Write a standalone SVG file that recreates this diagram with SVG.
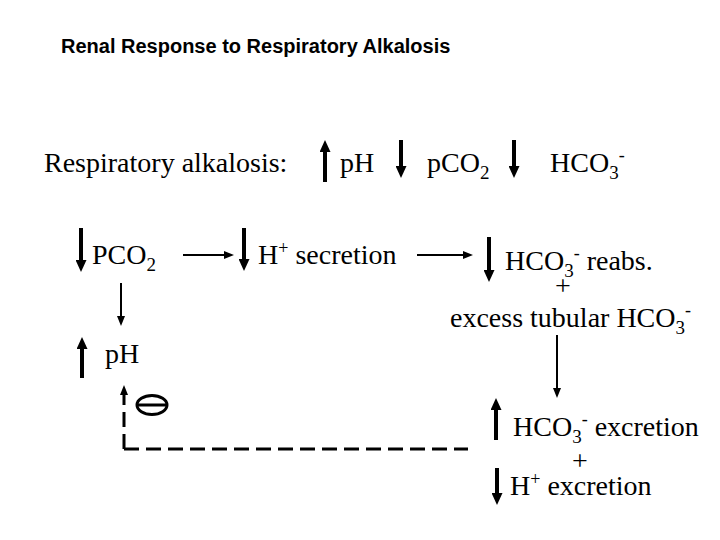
<svg xmlns="http://www.w3.org/2000/svg" width="720" height="540" viewBox="0 0 720 540">
<style>
  .t { font-family: "Liberation Serif", "Times New Roman", serif; font-size: 28px; fill: #000; }
  .sub { font-size: 19px; }
  .sup { font-size: 18px; }
  .title { font-family: "Liberation Sans", Arial, sans-serif; font-size: 20px; font-weight: bold; fill: #000; }
  .thick { stroke: #000; stroke-width: 4; fill: none; marker-end: url(#hThick); }
  .thin { stroke: #000; stroke-width: 2; fill: none; marker-end: url(#hThin); }
  .dash { stroke: #000; stroke-width: 3; fill: none; stroke-dasharray: 15 7; }
</style>
<defs>
  <marker id="hThick" markerUnits="userSpaceOnUse" markerWidth="12" markerHeight="11" viewBox="0 0 12 11" refX="0" refY="5.5" orient="auto">
    <path d="M0,0 L12,5.5 L0,11 z" fill="#000"/>
  </marker>
  <marker id="hThin" markerUnits="userSpaceOnUse" markerWidth="10" markerHeight="8" viewBox="0 0 10 8" refX="0" refY="4" orient="auto">
    <path d="M0,0 L10,4 L0,8 z" fill="#000"/>
  </marker>
  <marker id="hDash" markerUnits="userSpaceOnUse" markerWidth="10" markerHeight="8" viewBox="0 0 10 8" refX="0" refY="4" orient="auto">
    <path d="M0,0 L10,4 L0,8 z" fill="#000"/>
  </marker>
</defs>
<rect width="720" height="540" fill="#fff"/>

<g id="title"><text class="title" x="61" y="53">Renal Response to Respiratory Alkalosis</text></g>

<g id="row1">
  <text class="t" x="44" y="172">Respiratory alkalosis:</text>
  <line class="thick" x1="325" y1="182" x2="325" y2="152"/>
  <text class="t" x="340" y="172">pH</text>
  <line class="thick" x1="401" y1="140" x2="401" y2="166"/>
  <text class="t" x="427" y="172">pCO<tspan class="sub" dy="7">2</tspan></text>
  <line class="thick" x1="514" y1="140" x2="514" y2="166"/>
  <text class="t" x="550" y="172">HCO<tspan class="sub" dy="7">3</tspan><tspan class="sup" dy="-18">-</tspan></text>
</g>

<g id="pco2">
  <line class="thick" x1="81" y1="228" x2="81" y2="260"/>
  <text class="t" x="92" y="264">PCO<tspan class="sub" dy="7">2</tspan></text>
</g>
<g id="h-secretion">
  <line class="thick" x1="244" y1="228" x2="244" y2="259"/>
  <text class="t" x="258" y="264">H<tspan class="sup" dy="-10">+</tspan><tspan dy="10"> secretion</tspan></text>
</g>
<g id="hco3-reabs">
  <line class="thick" x1="489" y1="237" x2="489" y2="270"/>
  <text class="t" x="505" y="270">HCO<tspan class="sub" dy="7">3</tspan><tspan class="sup" dy="-18">-</tspan><tspan dy="11">  reabs.</tspan></text>
  <text class="t" x="555" y="295">+</text>
  <text class="t" x="450" y="327">excess tubular HCO<tspan class="sub" dy="7">3</tspan><tspan class="sup" dy="-18">-</tspan></text>
</g>
<g id="ph">
  <line class="thick" x1="82" y1="378" x2="82" y2="349"/>
  <text class="t" x="105" y="363">pH</text>
</g>
<g id="inhibit">
  <ellipse cx="152" cy="405" rx="15" ry="9.5" fill="none" stroke="#000" stroke-width="3"/>
  <line x1="137" y1="405" x2="167" y2="405" stroke="#000" stroke-width="3"/>
</g>
<g id="excretion">
  <line class="thick" x1="496" y1="440" x2="496" y2="410"/>
  <text class="t" x="513" y="436">HCO<tspan class="sub" dy="7">3</tspan><tspan class="sup" dy="-18">-</tspan><tspan dy="11">  excretion</tspan></text>
  <text class="t" x="572" y="470">+</text>
  <line class="thick" x1="497" y1="468" x2="497" y2="493"/>
  <text class="t" x="510" y="495">H<tspan class="sup" dy="-10">+</tspan><tspan dy="10">  excretion</tspan></text>
</g>

<g id="connectors">
  <line class="thin" x1="183" y1="255" x2="224" y2="255"/>
  <line class="thin" x1="417" y1="255" x2="463" y2="255"/>
  <line class="thin" x1="121" y1="283" x2="121" y2="316"/>
  <line class="thin" x1="557" y1="335" x2="557" y2="388"/>
  <path class="dash" d="M124,449 H468"/>
  <path class="dash" d="M124,449 V395" stroke-dasharray="16 6" marker-end="url(#hDash)"/>
</g>
</svg>
